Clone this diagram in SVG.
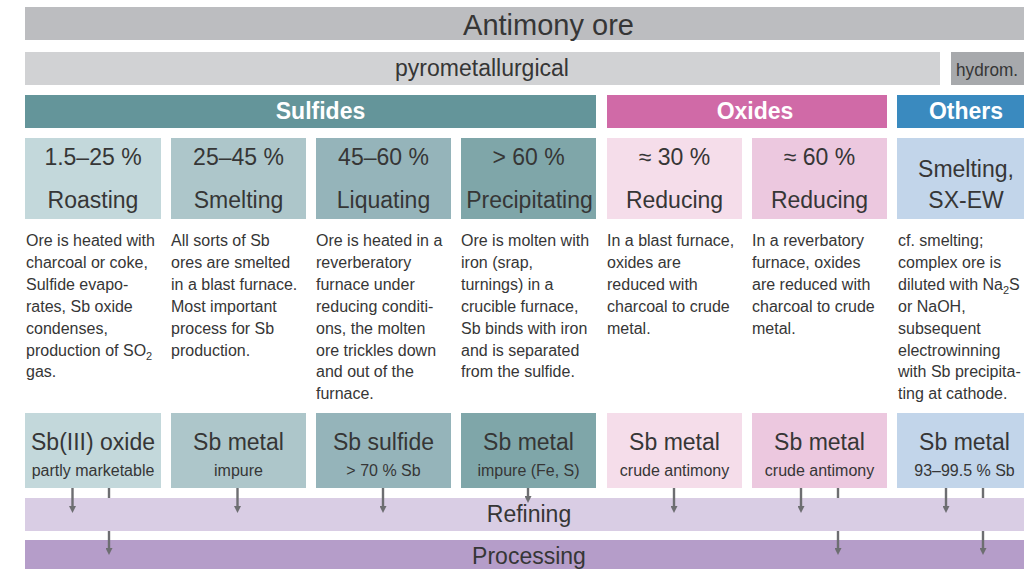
<svg xmlns="http://www.w3.org/2000/svg" width="1024" height="569" viewBox="0 0 1024 569">
<defs>
<style>
text{font-family:"Liberation Sans",Arial,sans-serif;fill:#363636}
.ttl{font-size:29px;text-anchor:middle}
.sec{font-size:23px;font-weight:bold;fill:#fff;text-anchor:middle}
.hd{font-size:23px;text-anchor:middle}
.desc{font-size:16px}
.res{font-size:23px;text-anchor:middle}
.sub{font-size:16px;text-anchor:middle}
.arr{stroke:#6d6e71;stroke-width:2.4;fill:none}
</style>
<marker id="ah" viewBox="0 0 7 7" refX="0.5" refY="3.5" markerWidth="7" markerHeight="7" markerUnits="userSpaceOnUse" orient="auto">
<path d="M0,0 L7,3.5 L0,7 z" fill="#6d6e71"/>
</marker>
</defs>
<rect width="1024" height="569" fill="#fff"/>

<g id="title">
<rect x="25" y="7" width="999" height="33" fill="#bcbdc0"/>
<text class="ttl" x="548.5" y="35">Antimony ore</text>
</g>
<g id="pyro">
<rect x="25" y="52" width="915" height="33" fill="#d1d2d4"/>
<text class="hd" x="482" y="76">pyrometallurgical</text>
</g>
<g id="hydro">
<rect x="951" y="52" width="73" height="33" fill="#a7a9ac"/>
<text x="956" y="76" style="font-size:19px" textLength="62" lengthAdjust="spacingAndGlyphs">hydrom.</text>
</g>

<g id="sulfides">
<rect x="25" y="95" width="571" height="33" fill="#64959a"/>
<text class="sec" x="320.5" y="119">Sulfides</text>
</g>
<g id="oxides">
<rect x="607" y="95" width="280" height="33" fill="#d06aa7"/>
<text class="sec" x="755" y="119">Oxides</text>
</g>
<g id="others">
<rect x="897" y="95" width="127" height="33" fill="#3a8abf"/>
<text class="sec" x="966" y="119">Others</text>
</g>

<g id="roasting">
<rect x="25" y="138" width="136" height="81" fill="#c3d8db"/>
<text class="hd" x="93" y="165">1.5–25 %</text>
<text class="hd" x="93" y="208">Roasting</text>
</g>
<g id="smelting">
<rect x="171" y="138" width="135" height="81" fill="#adc6ca"/>
<text class="hd" x="238.5" y="165">25–45 %</text>
<text class="hd" x="238.5" y="208">Smelting</text>
</g>
<g id="liquating">
<rect x="316" y="138" width="135" height="81" fill="#95b4ba"/>
<text class="hd" x="383.5" y="165">45–60 %</text>
<text class="hd" x="383.5" y="208">Liquating</text>
</g>
<g id="precipitating">
<rect x="461" y="138" width="135" height="81" fill="#7fa6a9"/>
<text class="hd" x="528.5" y="165">&gt; 60 %</text>
<text class="hd" x="529.5" y="208">Precipitating</text>
</g>
<g id="reducing1">
<rect x="607" y="138" width="135" height="81" fill="#f5ddea"/>
<text class="hd" x="674.5" y="165">≈ 30 %</text>
<text class="hd" x="674.5" y="208">Reducing</text>
</g>
<g id="reducing2">
<rect x="752" y="138" width="135" height="81" fill="#ecc8df"/>
<text class="hd" x="819.5" y="165">≈ 60 %</text>
<text class="hd" x="819.5" y="208">Reducing</text>
</g>
<g id="sxew">
<rect x="897" y="138" width="127" height="81" fill="#c2d5ea"/>
<text class="hd" x="966" y="177">Smelting,</text>
<text class="hd" x="966" y="208">SX-EW</text>
</g>

<g id="desc1">
<text class="desc" x="26" y="246">Ore is heated with</text>
<text class="desc" x="26" y="268">charcoal or coke,</text>
<text class="desc" x="26" y="290">Sulfide evapo-</text>
<text class="desc" x="26" y="312">rates, Sb oxide</text>
<text class="desc" x="26" y="334">condenses,</text>
<text class="desc" x="26" y="356">production of SO<tspan font-size="11" dy="4">2</tspan></text>
<text class="desc" x="26" y="377">gas.</text>
</g>
<g id="desc2">
<text class="desc" x="171" y="246">All sorts of Sb</text>
<text class="desc" x="171" y="268">ores are smelted</text>
<text class="desc" x="171" y="290">in a blast furnace.</text>
<text class="desc" x="171" y="312">Most important</text>
<text class="desc" x="171" y="334">process for Sb</text>
<text class="desc" x="171" y="356">production.</text>
</g>
<g id="desc3">
<text class="desc" x="316" y="246">Ore is heated in a</text>
<text class="desc" x="316" y="268">reverberatory</text>
<text class="desc" x="316" y="290">furnace under</text>
<text class="desc" x="316" y="312">reducing conditi-</text>
<text class="desc" x="316" y="334">ons, the molten</text>
<text class="desc" x="316" y="356">ore trickles down</text>
<text class="desc" x="316" y="377">and out of the</text>
<text class="desc" x="316" y="399">furnace.</text>
</g>
<g id="desc4">
<text class="desc" x="461" y="246">Ore is molten with</text>
<text class="desc" x="461" y="268">iron (srap,</text>
<text class="desc" x="461" y="290">turnings) in a</text>
<text class="desc" x="461" y="312">crucible furnace,</text>
<text class="desc" x="461" y="334">Sb binds with iron</text>
<text class="desc" x="461" y="356">and is separated</text>
<text class="desc" x="461" y="377">from the sulfide.</text>
</g>
<g id="desc5">
<text class="desc" x="607" y="246">In a blast furnace,</text>
<text class="desc" x="607" y="268">oxides are</text>
<text class="desc" x="607" y="290">reduced with</text>
<text class="desc" x="607" y="312">charcoal to crude</text>
<text class="desc" x="607" y="334">metal.</text>
</g>
<g id="desc6">
<text class="desc" x="752" y="246">In a reverbatory</text>
<text class="desc" x="752" y="268">furnace, oxides</text>
<text class="desc" x="752" y="290">are reduced with</text>
<text class="desc" x="752" y="312">charcoal to crude</text>
<text class="desc" x="752" y="334">metal.</text>
</g>
<g id="desc7">
<text class="desc" x="898" y="246">cf. smelting;</text>
<text class="desc" x="898" y="268">complex ore is</text>
<text class="desc" x="898" y="290">diluted with Na<tspan font-size="11" dy="4">2</tspan><tspan dy="-4">S</tspan></text>
<text class="desc" x="898" y="312">or NaOH,</text>
<text class="desc" x="898" y="334">subsequent</text>
<text class="desc" x="898" y="356">electrowinning</text>
<text class="desc" x="898" y="377">with Sb precipita-</text>
<text class="desc" x="898" y="399">ting at cathode.</text>
</g>

<g id="refining">
<rect x="25" y="498" width="999" height="33" fill="#d9cde4"/>
<text class="res" x="529" y="522">Refining</text>
</g>
<g id="processing">
<rect x="25" y="540" width="999" height="29" fill="#b59dc9"/>
<text class="res" x="529" y="564">Processing</text>
</g>

<g id="sb3oxide">
<rect x="25" y="413" width="136" height="75" fill="#c3d8db"/>
<text class="res" x="93" y="450">Sb(III) oxide</text>
<text class="sub" x="93" y="476">partly marketable</text>
</g>
<g id="sbmetal1">
<rect x="171" y="413" width="135" height="75" fill="#adc6ca"/>
<text class="res" x="238.5" y="450">Sb metal</text>
<text class="sub" x="238.5" y="476">impure</text>
</g>
<g id="sbsulfide">
<rect x="316" y="413" width="135" height="75" fill="#95b4ba"/>
<text class="res" x="383.5" y="450">Sb sulfide</text>
<text class="sub" x="383.5" y="476">&gt; 70 % Sb</text>
</g>
<g id="sbmetal2">
<rect x="461" y="413" width="135" height="75" fill="#7fa6a9"/>
<text class="res" x="528.5" y="450">Sb metal</text>
<text class="sub" x="528.5" y="476">impure (Fe, S)</text>
</g>
<g id="sbmetal3">
<rect x="607" y="413" width="135" height="75" fill="#f5ddea"/>
<text class="res" x="674.5" y="450">Sb metal</text>
<text class="sub" x="674.5" y="476">crude antimony</text>
</g>
<g id="sbmetal4">
<rect x="752" y="413" width="135" height="75" fill="#ecc8df"/>
<text class="res" x="819.5" y="450">Sb metal</text>
<text class="sub" x="819.5" y="476">crude antimony</text>
</g>
<g id="sbmetal5">
<rect x="897" y="413" width="127" height="75" fill="#c2d5ea"/>
<text class="res" x="964.5" y="450">Sb metal</text>
<text class="sub" x="964.5" y="476">93–99.5 % Sb</text>
</g>

<g id="connectors" class="arr">
<line x1="72.5" y1="488" x2="72.5" y2="506.5" marker-end="url(#ah)"/>
<line x1="237.5" y1="488" x2="237.5" y2="506.5" marker-end="url(#ah)"/>
<line x1="383" y1="488" x2="383" y2="506.5" marker-end="url(#ah)"/>
<line x1="528" y1="488" x2="528" y2="496.5" marker-end="url(#ah)"/>
<line x1="674" y1="488" x2="674" y2="506.5" marker-end="url(#ah)"/>
<line x1="801" y1="488" x2="801" y2="506.5" marker-end="url(#ah)"/>
<line x1="946" y1="488" x2="946" y2="506.5" marker-end="url(#ah)"/>
<line x1="109" y1="488" x2="109" y2="498"/>
<line x1="109" y1="531" x2="109" y2="548.5" marker-end="url(#ah)"/>
<line x1="838" y1="488" x2="838" y2="498"/>
<line x1="838" y1="531" x2="838" y2="548.5" marker-end="url(#ah)"/>
<line x1="983" y1="488" x2="983" y2="498"/>
<line x1="983" y1="531" x2="983" y2="548.5" marker-end="url(#ah)"/>
</g>
</svg>
